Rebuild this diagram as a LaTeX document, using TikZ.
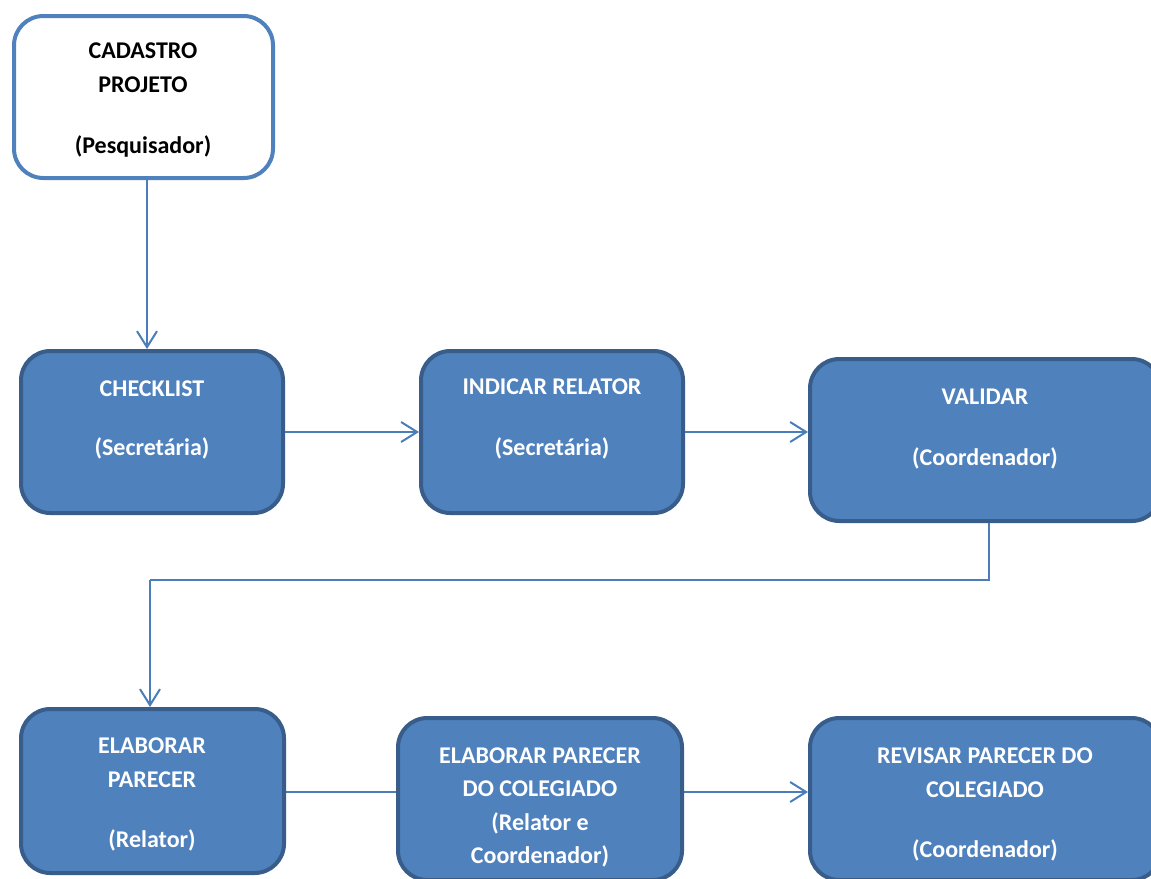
\documentclass[tikz,border=0pt]{standalone}
\usepackage{fontspec}
\setmainfont{Carlito}
\usetikzlibrary{arrows.meta}
\definecolor{boxfill}{HTML}{4F81BD}
\definecolor{boxline}{HTML}{385D8A}
\definecolor{connline}{HTML}{4A7EBB}
\tikzset{
  bluebox/.style={draw=boxline, fill=boxfill, line width=3pt, rounded corners=22pt, inner sep=0pt},
  whitebox/.style={draw=boxfill, fill=white, line width=3pt, rounded corners=22pt, inner sep=0pt},
  conn/.style={draw=connline, line width=1.5pt, -{Straight Barb[length=12pt,width=15pt,line width=1.5pt]}},
  plain/.style={draw=connline, line width=1.5pt},
  wtxt/.style={text=white, font=\fontsize{18pt}{21pt}\selectfont\bfseries, inner sep=0pt, anchor=base},
  btxt/.style={text=black, font=\fontsize{18pt}{21pt}\selectfont\bfseries, inner sep=0pt, anchor=base}
}
\begin{document}
\begin{tikzpicture}[x=0.75pt,y=-0.75pt]
\useasboundingbox (0,0) rectangle (1151,878);
\clip (0,0) rectangle (1151,878);
% boxes
\node[whitebox, minimum width=259*0.75pt, minimum height=162*0.75pt] (cad) at (143.5,97) {};
\node[bluebox, minimum width=262*0.75pt, minimum height=162*0.75pt] (check) at (152,432) {};
\node[bluebox, minimum width=262*0.75pt, minimum height=162*0.75pt] (indic) at (552,432) {};
\node[bluebox, minimum width=351*0.75pt, minimum height=162*0.75pt] (valid) at (985.5,440) {};
% connector under colegiado box
\draw[conn, shorten >=-16pt] (284,792) coordinate (e1) -- (e1 -| 398,0) coordinate (e2);
\node[bluebox, minimum width=263*0.75pt, minimum height=164*0.75pt] (elab) at (152.5,791) {};
\node[bluebox, minimum width=284*0.75pt, minimum height=162*0.75pt] (coleg) at (540,799) {};
\node[bluebox, minimum width=351*0.75pt, minimum height=162*0.75pt] (revis) at (985.5,799) {};
% texts
\node[btxt] (c1) at (143,58) {CADASTRO};
\node[btxt] (c2) at (143,92) {PROJETO};
\node[btxt] (c3) at (143,153) {(Pesquisador)};
\node[wtxt] (k1) at (152,396) {CHECKLIST};
\node[wtxt] (k2) at (152,455) {(Secretária)};
\node[wtxt] (i1) at (552,394) {INDICAR RELATOR};
\node[wtxt] (i2) at (552,455) {(Secretária)};
\node[wtxt] (v1) at (985,404) {VALIDAR};
\node[wtxt] (v2) at (985,465) {(Coordenador)};
\node[wtxt] (l1) at (152,753) {ELABORAR};
\node[wtxt] (l2) at (152,787) {PARECER};
\node[wtxt] (l3) at (152,847) {(Relator)};
\node[wtxt] (g1) at (540,763) {ELABORAR PARECER};
\node[wtxt] (g2) at (540,796) {DO COLEGIADO};
\node[wtxt] (g3) at (540,830) {(Relator e};
\node[wtxt] (g4) at (540,863) {Coordenador)};
\node[wtxt] (r1) at (985,763) {REVISAR PARECER DO};
\node[wtxt] (r2) at (985,797) {COLEGIADO};
\node[wtxt] (r3) at (985,857) {(Coordenador)};
% connectors
\coordinate (a1) at (147,0);
\draw[conn] (cad.south -| a1) -- (check.north -| a1);
\draw[conn] (check.east) -- (indic.west);
\draw[conn] (indic.east) -- (indic.east -| valid.west);
\coordinate (vx) at (989,0);
\coordinate (t) at (150,580);
\draw[plain] (valid.south -| vx) |- (t);
\draw[conn] (t) -- (t |- elab.north);
\coordinate (h2) at (0,792);
\draw[conn] (coleg.east |- h2) -- (revis.west |- h2);
\end{tikzpicture}
\end{document}
